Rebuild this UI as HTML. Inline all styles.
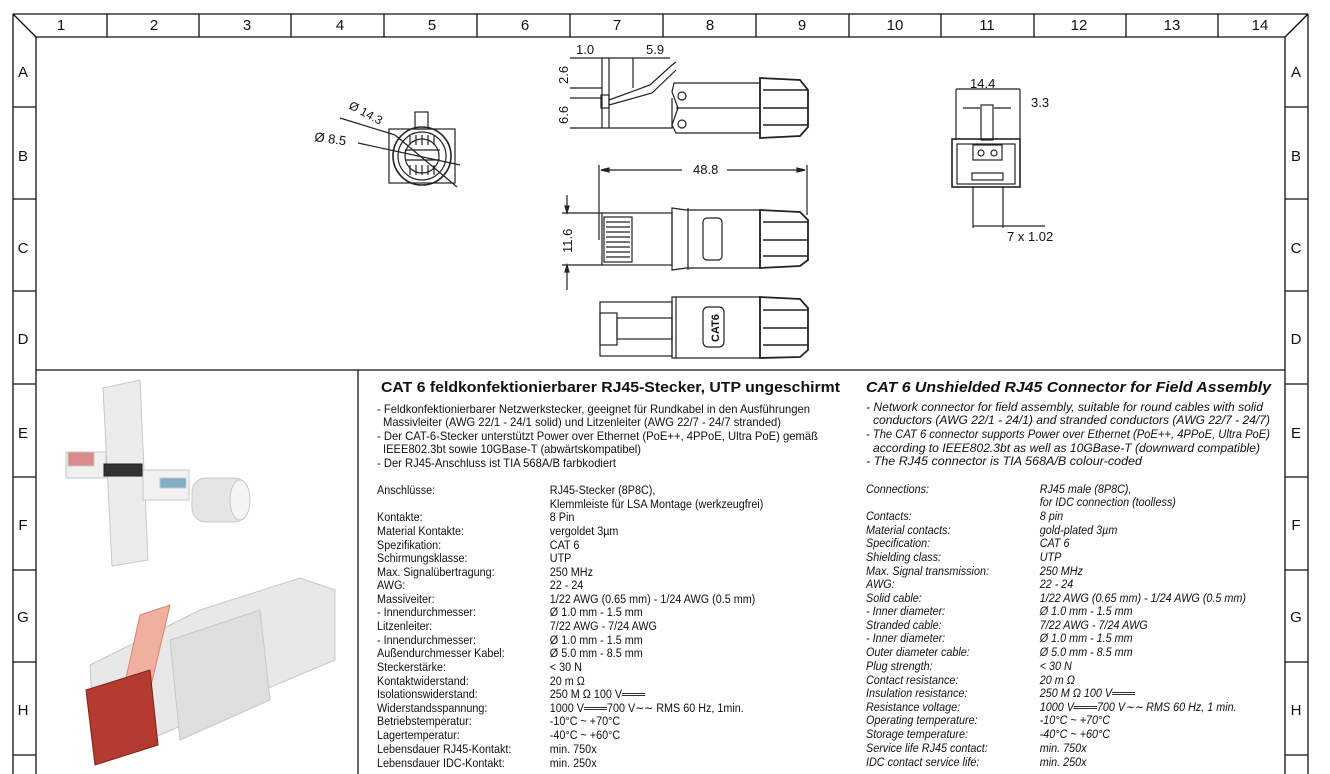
<!DOCTYPE html>
<html><head><meta charset="utf-8"><style>
html,body{margin:0;padding:0;background:#fff;}
svg{display:block;}
text{font-family:"Liberation Sans",Arial,sans-serif;fill:#111;}
</style></head><body>
<svg width="1330" height="774" viewBox="0 0 1330 774" xmlns="http://www.w3.org/2000/svg">
<rect width="1330" height="774" fill="#fff"/>
<g stroke="#111" stroke-width="1.3" fill="none">
<line x1="13" y1="14" x2="1308" y2="14"/>
<line x1="36" y1="37" x2="1285" y2="37"/>
<line x1="13" y1="14" x2="13" y2="774"/>
<line x1="36" y1="37" x2="36" y2="774"/>
<line x1="1285" y1="37" x2="1285" y2="774"/>
<line x1="1308" y1="14" x2="1308" y2="774"/>
<line x1="13" y1="14" x2="36" y2="37"/>
<line x1="1308" y1="14" x2="1285" y2="37"/>
<line x1="36" y1="370" x2="1285" y2="370"/>
<line x1="358" y1="370" x2="358" y2="774"/>
<path d="M107 14V37M199 14V37M291 14V37M384 14V37M477 14V37M570 14V37M663 14V37M756 14V37M849 14V37M941 14V37M1034 14V37M1126 14V37M1218 14V37"/>
<path d="M13 107H36M13 199H36M13 291H36M13 384H36M13 477H36M13 570H36M13 662H36M13 755H36"/>
<path d="M1285 107H1308M1285 199H1308M1285 291H1308M1285 384H1308M1285 477H1308M1285 570H1308M1285 662H1308M1285 755H1308"/>
</g>
<g font-size="15" text-anchor="middle">
<text x="61" y="30">1</text><text x="154" y="30">2</text><text x="247" y="30">3</text><text x="340" y="30">4</text><text x="432" y="30">5</text><text x="525" y="30">6</text><text x="617" y="30">7</text><text x="710" y="30">8</text><text x="802" y="30">9</text><text x="895" y="30">10</text><text x="987" y="30">11</text><text x="1079" y="30">12</text><text x="1172" y="30">13</text><text x="1260" y="30">14</text>
<text x="23" y="77">A</text><text x="23" y="161">B</text><text x="23" y="253">C</text><text x="23" y="344">D</text><text x="23" y="438">E</text><text x="23" y="530">F</text><text x="23" y="622">G</text><text x="23" y="715">H</text>
<text x="1296" y="77">A</text><text x="1296" y="161">B</text><text x="1296" y="253">C</text><text x="1296" y="344">D</text><text x="1296" y="438">E</text><text x="1296" y="530">F</text><text x="1296" y="622">G</text><text x="1296" y="715">H</text>
</g>

<g stroke="#222" stroke-width="1.2" fill="none">
<rect x="389" y="129" width="66" height="54"/>
<circle cx="422" cy="156" r="29" stroke-width="1.6"/>
<circle cx="422" cy="156" r="24"/>
<circle cx="422" cy="156" r="17"/>
<rect x="415" y="112" width="13" height="17"/>
<line x1="405" y1="150" x2="440" y2="150"/><line x1="405" y1="160" x2="440" y2="160"/>
<line x1="340" y1="118" x2="395" y2="135"/>
<line x1="358" y1="143" x2="460" y2="165"/>
<line x1="395" y1="135" x2="457" y2="187"/>
<path d="M410 135v10M416 135v10M422 135v10M428 135v10M434 135v10M410 165v10M416 165v10M422 165v10M428 165v10M434 165v10"/>
</g>
<text x="348" y="108" font-size="12" transform="rotate(28 348 108)">Ø 14.3</text>
<text x="314" y="141" font-size="13" transform="rotate(8 314 141)">Ø 8.5</text>

<g stroke="#222" stroke-width="1.2" fill="none">
<line x1="570" y1="58" x2="670" y2="58"/>
<line x1="570" y1="88" x2="602" y2="88"/>
<line x1="570" y1="98" x2="602" y2="98"/>
<line x1="570" y1="128" x2="602" y2="128"/>
<line x1="602" y1="58" x2="602" y2="128"/>
<line x1="609" y1="58" x2="609" y2="128"/>
<line x1="633" y1="58" x2="633" y2="88"/>
<rect x="601" y="95" width="8" height="13"/>
<path d="M609 100 L650 85 L672 65 L676 62 M609 105 L652 93 L676 70"/>
<path d="M602 128 H672 V98"/>
<path d="M674 83 H760 V133 H676 L672 125 L678 108 L672 92 Z"/>
<line x1="676" y1="108" x2="760" y2="108"/>
<circle cx="682" cy="96" r="4"/><circle cx="682" cy="124" r="4"/>
<path d="M760 78 L800 80 L808 90 L808 127 L800 136 L760 138 Z" stroke-width="1.8"/>
<path d="M763 90H808M763 108H808M763 125H808" stroke-width="1.5"/>
</g>
<text x="576" y="54" font-size="13">1.0</text>
<text x="646" y="54" font-size="13">5.9</text>
<text x="568" y="84" font-size="13" transform="rotate(-90 568 84)">2.6</text>
<text x="568" y="124" font-size="13" transform="rotate(-90 568 124)">6.6</text>

<g stroke="#222" stroke-width="1.2" fill="none">
<line x1="599" y1="165" x2="599" y2="240"/>
<line x1="807" y1="165" x2="807" y2="215"/>
<line x1="601" y1="170" x2="682" y2="170"/><line x1="727" y1="170" x2="805" y2="170"/>
<path d="M601 170l8-2v4zM805 170l-8-2v4z" fill="#222"/>
<line x1="567" y1="195" x2="567" y2="210"/><line x1="567" y1="268" x2="567" y2="290"/>
<line x1="562" y1="213" x2="602" y2="213"/><line x1="562" y1="265" x2="602" y2="265"/>
<path d="M567 213l-2-7h4zM567 265l-2 7h4z" fill="#222"/>
<rect x="602" y="213" width="70" height="52"/>
<rect x="604" y="217" width="28" height="45"/>
<path d="M606 222h24M606 227h24M606 232h24M606 237h24M606 242h24M606 247h24M606 252h24M606 257h24"/>
<path d="M672 208 L686 210 L760 210 L760 268 L686 268 L672 270 Z"/>
<line x1="688" y1="208" x2="688" y2="270"/>
<rect x="703" y="218" width="19" height="42" rx="4"/>
<path d="M760 210 L800 212 L808 220 L808 260 L800 266 L760 268 Z" stroke-width="1.8"/>
<path d="M763 222H808M763 240H808M763 256H808" stroke-width="1.5"/>
</g>
<text x="693" y="174" font-size="13">48.8</text>
<text x="572" y="253" font-size="13" transform="rotate(-90 572 253)">11.6</text>

<g stroke="#222" stroke-width="1.2" fill="none">
<rect x="600" y="302" width="72" height="54"/>
<rect x="600" y="313" width="17" height="32"/>
<rect x="617" y="318" width="55" height="21"/>
<path d="M672 297 L760 297 L760 358 L672 358 Z"/>
<line x1="676" y1="297" x2="676" y2="358"/>
<rect x="703" y="307" width="21" height="40" rx="5"/>
<path d="M760 297 L800 299 L808 308 L808 350 L800 357 L760 358 Z" stroke-width="1.8"/>
<path d="M763 310H808M763 328H808M763 345H808" stroke-width="1.5"/>
</g>
<text x="719" y="342" font-size="11" font-weight="bold" transform="rotate(-90 719 342)">CAT6</text>

<g stroke="#222" stroke-width="1.2" fill="none">
<line x1="956" y1="89" x2="1020" y2="89"/>
<line x1="956" y1="89" x2="956" y2="140"/><line x1="1020" y1="89" x2="1020" y2="140"/>
<line x1="963" y1="108" x2="980" y2="108"/><line x1="994" y1="108" x2="1011" y2="108"/>
<rect x="981" y="105" width="12" height="35"/>
<rect x="952" y="139" width="68" height="48" stroke-width="1.6"/>
<rect x="957" y="144" width="58" height="40"/>
<rect x="973" y="145" width="29" height="15"/>
<circle cx="981" cy="153" r="3"/><circle cx="994" cy="153" r="3"/>
<rect x="972" y="173" width="31" height="7"/>
<line x1="973" y1="187" x2="973" y2="228"/><line x1="1003" y1="187" x2="1003" y2="228"/>
<line x1="973" y1="226" x2="1045" y2="226"/>
</g>
<text x="970" y="88" font-size="13">14.4</text>
<text x="1031" y="107" font-size="13">3.3</text>
<text x="1007" y="241" font-size="13">7 x 1.02</text>

<g stroke="#c8c8c8" stroke-width="1">
<path d="M103 388 L140 380 L148 560 L112 566 Z" fill="#ececec"/>
<rect x="66" y="452" width="40" height="26" fill="#f0f0f0"/>
<rect x="68" y="452" width="26" height="14" fill="#d98a8a"/>
<rect x="104" y="464" width="38" height="12" fill="#333" stroke="#222"/>
<rect x="143" y="470" width="46" height="30" fill="#f2f2f2"/>
<rect x="160" y="478" width="26" height="10" fill="#7fb0c8"/>
<rect x="192" y="478" width="56" height="44" rx="14" fill="#e6e6e6"/>
<ellipse cx="240" cy="500" rx="10" ry="20" fill="#f4f4f4"/>
<path d="M90 665 L200 610 L300 578 L335 590 L335 660 L240 700 L160 735 L95 760 Z" fill="#e8e8e8"/>
<path d="M170 640 L260 610 L270 700 L180 740 Z" fill="#dedede"/>
<path d="M140 615 L170 605 L150 690 L120 705 Z" fill="#f0b0a0" stroke="#e08070"/>
<path d="M86 690 L150 670 L158 745 L95 765 Z" fill="#b33b30" stroke="#80201a"/>
</g>

<text x="381" y="392" font-size="15" font-weight="bold" textLength="459" lengthAdjust="spacingAndGlyphs">CAT 6 feldkonfektionierbarer RJ45-Stecker, UTP ungeschirmt</text>
<text x="866" y="392" font-size="15" font-weight="bold" font-style="italic" textLength="405" lengthAdjust="spacingAndGlyphs">CAT 6 Unshielded RJ45 Connector for Field Assembly</text>

<g font-size="12">
<text x="377" y="413" textLength="433" lengthAdjust="spacingAndGlyphs">- Feldkonfektionierbarer Netzwerkstecker, geeignet für Rundkabel in den Ausführungen</text>
<text x="383" y="426" textLength="398" lengthAdjust="spacingAndGlyphs">Massivleiter (AWG 22/1 - 24/1 solid) und Litzenleiter (AWG 22/7 - 24/7 stranded)</text>
<text x="377" y="440" textLength="441" lengthAdjust="spacingAndGlyphs">- Der CAT-6-Stecker unterstützt Power over Ethernet (PoE++, 4PPoE, Ultra PoE) gemäß</text>
<text x="383" y="453" textLength="258" lengthAdjust="spacingAndGlyphs">IEEE802.3bt sowie 10GBase-T (abwärtskompatibel)</text>
<text x="377" y="467" textLength="239" lengthAdjust="spacingAndGlyphs">- Der RJ45-Anschluss ist TIA 568A/B farbkodiert</text>
</g>
<g font-size="12" font-style="italic">
<text x="866" y="411" textLength="397" lengthAdjust="spacingAndGlyphs">- Network connector for field assembly, suitable for round cables with solid</text>
<text x="873" y="424" textLength="397" lengthAdjust="spacingAndGlyphs">conductors (AWG 22/1 - 24/1) and stranded conductors (AWG 22/7 - 24/7)</text>
<text x="866" y="438" textLength="404" lengthAdjust="spacingAndGlyphs">- The CAT 6 connector supports Power over Ethernet (PoE++, 4PPoE, Ultra PoE)</text>
<text x="873" y="452" textLength="387" lengthAdjust="spacingAndGlyphs">according to IEEE802.3bt as well as 10GBase-T (downward compatible)</text>
<text x="866" y="465" textLength="276" lengthAdjust="spacingAndGlyphs">- The RJ45 connector is TIA 568A/B colour-coded</text>
</g>

<g font-size="12" transform="translate(377,0) scale(0.9,1)">
<text x="0" y="494">Anschlüsse:</text>
<text x="0" y="521">Kontakte:</text>
<text x="0" y="535">Material Kontakte:</text>
<text x="0" y="549">Spezifikation:</text>
<text x="0" y="562">Schirmungsklasse:</text>
<text x="0" y="576">Max. Signalübertragung:</text>
<text x="0" y="589">AWG:</text>
<text x="0" y="603">Massiveiter:</text>
<text x="0" y="616">- Innendurchmesser:</text>
<text x="0" y="630">Litzenleiter:</text>
<text x="0" y="644">- Innendurchmesser:</text>
<text x="0" y="657">Außendurchmesser Kabel:</text>
<text x="0" y="671">Steckerstärke:</text>
<text x="0" y="685">Kontaktwiderstand:</text>
<text x="0" y="698">Isolationswiderstand:</text>
<text x="0" y="712">Widerstandsspannung:</text>
<text x="0" y="725">Betriebstemperatur:</text>
<text x="0" y="739">Lagertemperatur:</text>
<text x="0" y="753">Lebensdauer RJ45-Kontakt:</text>
<text x="0" y="767">Lebensdauer IDC-Kontakt:</text>
<g transform="translate(192,0)">
<text x="0" y="494">RJ45-Stecker (8P8C),</text>
<text x="0" y="508">Klemmleiste für LSA Montage (werkzeugfrei)</text>
<text x="0" y="521">8 Pin</text>
<text x="0" y="535">vergoldet 3µm</text>
<text x="0" y="549">CAT 6</text>
<text x="0" y="562">UTP</text>
<text x="0" y="576">250 MHz</text>
<text x="0" y="589">22 - 24</text>
<text x="0" y="603">1/22 AWG (0.65 mm) - 1/24 AWG (0.5 mm)</text>
<text x="0" y="616">Ø 1.0 mm - 1.5 mm</text>
<text x="0" y="630">7/22 AWG - 7/24 AWG</text>
<text x="0" y="644">Ø 1.0 mm - 1.5 mm</text>
<text x="0" y="657">Ø 5.0 mm - 8.5 mm</text>
<text x="0" y="671">&lt; 30 N</text>
<text x="0" y="685">20 m Ω</text>
<text x="0" y="698">250 M Ω  100 V═══</text>
<text x="0" y="712">1000 V═══700 V∼∼ RMS 60 Hz, 1min.</text>
<text x="0" y="725">-10°C ~ +70°C</text>
<text x="0" y="739">-40°C  ~ +60°C</text>
<text x="0" y="753">min. 750x</text>
<text x="0" y="767">min. 250x</text>
</g>
</g>

<g font-size="12" font-style="italic" transform="translate(866,0) scale(0.9,1)">
<text x="0" y="493">Connections:</text>
<text x="0" y="520">Contacts:</text>
<text x="0" y="534">Material contacts:</text>
<text x="0" y="547">Specification:</text>
<text x="0" y="561">Shielding class:</text>
<text x="0" y="575">Max. Signal transmission:</text>
<text x="0" y="588">AWG:</text>
<text x="0" y="602">Solid cable:</text>
<text x="0" y="615">- Inner diameter:</text>
<text x="0" y="629">Stranded cable:</text>
<text x="0" y="642">- Inner diameter:</text>
<text x="0" y="656">Outer diameter cable:</text>
<text x="0" y="670">Plug strength:</text>
<text x="0" y="684">Contact resistance:</text>
<text x="0" y="697">Insulation resistance:</text>
<text x="0" y="711">Resistance voltage:</text>
<text x="0" y="724">Operating temperature:</text>
<text x="0" y="738">Storage temperature:</text>
<text x="0" y="752">Service life RJ45 contact:</text>
<text x="0" y="766">IDC contact service life:</text>
<g transform="translate(193,0)">
<text x="0" y="493">RJ45 male (8P8C),</text>
<text x="0" y="506">for IDC connection (toolless)</text>
<text x="0" y="520">8 pin</text>
<text x="0" y="534">gold-plated 3µm</text>
<text x="0" y="547">CAT 6</text>
<text x="0" y="561">UTP</text>
<text x="0" y="575">250 MHz</text>
<text x="0" y="588">22 - 24</text>
<text x="0" y="602">1/22 AWG (0.65 mm) - 1/24 AWG (0.5 mm)</text>
<text x="0" y="615">Ø 1.0 mm - 1.5 mm</text>
<text x="0" y="629">7/22 AWG - 7/24 AWG</text>
<text x="0" y="642">Ø 1.0 mm - 1.5 mm</text>
<text x="0" y="656">Ø 5.0 mm - 8.5 mm</text>
<text x="0" y="670">&lt; 30 N</text>
<text x="0" y="684">20 m Ω</text>
<text x="0" y="697">250 M Ω 100 V═══</text>
<text x="0" y="711">1000 V═══700 V∼∼ RMS 60 Hz, 1 min.</text>
<text x="0" y="724">-10°C ~ +70°C</text>
<text x="0" y="738">-40°C ~ +60°C</text>
<text x="0" y="752">min. 750x</text>
<text x="0" y="766">min. 250x</text>
</g>
</g>
</svg>
</body></html>
